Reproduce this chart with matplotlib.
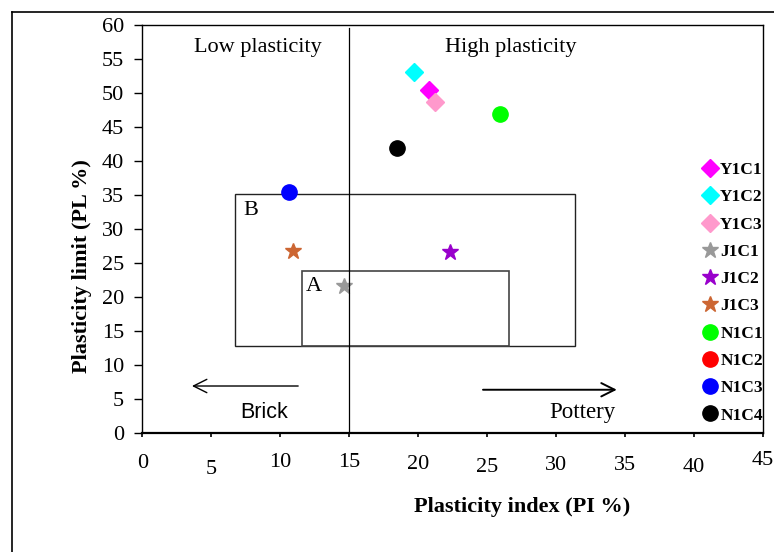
import numpy as np
import matplotlib.pyplot as plt
from matplotlib.patches import Rectangle
from matplotlib.lines import Line2D
from matplotlib.transforms import ScaledTranslation

# %%
""" Data read from the figure """
samples = ['Y1C1', 'Y1C2', 'Y1C3', 'J1C1', 'J1C2', 'J1C3', 'N1C1', 'N1C2', 'N1C3', 'N1C4']
pi_vals = [20.8, 19.7, 21.2, 14.6, 22.3, 10.9, 25.9, None, 10.6, 18.5]   # N1C2 not plotted
pl_vals = [50.4, 53.1, 48.7, 21.6, 26.7, 26.8, 46.9, None, 35.5, 41.9]

# zones (PI min, PI max, PL min, PL max)
zone_a = [11.6, 26.6, 12.8, 23.9]
zone_b = [6.7, 31.4, 12.8, 35.1]
pi_split = 15

xticks = [0, 5, 10, 15, 20, 25, 30, 35, 40, 45]
yticks = [0, 5, 10, 15, 20, 25, 30, 35, 40, 45, 50, 55, 60]

# %%
""" Styles """
markers = ['D', 'D', 'D', '*', '*', '*', 'o', 'o', 'o', 'o']
colors = ['#ff00ff', '#00ffff', '#ff99cc', '#999999', '#9900cc', '#cc6633',
          '#00ff00', '#ff0000', '#0000ff', '#000000']
msizes = [9, 9, 9, 12, 12, 12, 11, 11, 11, 11]
# small vertical jitter of the x tick labels (pixels), as in the original
xlab_dy = [1, 7, 0, 0, 2, 5, 3, 3, 5, -2]

plt.rcParams['font.family'] = 'Liberation Serif'
plt.rcParams['font.size'] = 15
plt.rcParams['mathtext.fontset'] = 'dejavuserif'

fig = plt.figure(figsize=(7.74, 5.52), dpi=100)
ax = fig.add_axes([142.3/774, 1 - 433.3/552, (763 - 142.3)/774, (433.3 - 25)/552])

# outer frame
fig.add_artist(Line2D([12.5/774, 1.0], [1 - 11.5/552, 1 - 11.5/552], color='black', lw=1.2))
fig.add_artist(Line2D([12.5/774, 12.5/774], [0.0, 1 - 11.5/552], color='black', lw=1.2))

# points
for name, x, y, m, c, s in zip(samples, pi_vals, pl_vals, markers, colors, msizes):
    xs = [] if x is None else [x]
    ys = [] if y is None else [y]
    ax.plot(xs, ys, ls='none', marker=m, color=c, markersize=s, label=name)

# zones
ax.add_patch(Rectangle((zone_b[0], zone_b[2]), zone_b[1] - zone_b[0], zone_b[3] - zone_b[2],
                       fill=False, edgecolor='#222222', lw=1.0))
ax.add_patch(Rectangle((zone_a[0], zone_a[2]), zone_a[1] - zone_a[0], zone_a[3] - zone_a[2],
                       fill=False, edgecolor='#444444', lw=1.2))
ax.plot([pi_split, pi_split], [0, 59.6], color='black', lw=0.9)

ax.text(zone_b[0] + 0.6, zone_b[3] - 2.3, 'B', fontsize=16, ha='left', va='center')
ax.text(zone_a[0] + 0.25, zone_a[3] - 2.3, 'A', fontsize=16, ha='left', va='center')

ax.text(8.35, 56.7, 'Low plasticity', fontsize=16, ha='center', va='center')
ax.text(26.7, 56.7, 'High plasticity', fontsize=16, ha='center', va='center')

# arrows
ax.annotate('', xy=(3.6, 6.95), xytext=(11.3, 6.95),
            arrowprops=dict(arrowstyle='->,head_length=0.6,head_width=0.3',
                            mutation_scale=16, lw=1.0, color='black', shrinkA=0, shrinkB=0))
ax.annotate('', xy=(34.4, 6.4), xytext=(24.7, 6.4),
            arrowprops=dict(arrowstyle='->,head_length=0.6,head_width=0.3',
                            mutation_scale=16, lw=1.4, color='black', shrinkA=0, shrinkB=0))
ax.text(8.8, 3.1, 'Brick', fontsize=15.5, family='Liberation Sans', ha='center', va='center')
ax.text(31.9, 3.1, 'Pottery', fontsize=16.5, ha='center', va='center')

ax.set_xlim(0, 45)
ax.set_ylim(0, 60)
ax.set_xticks(xticks)
ax.set_xticklabels([str(t) for t in xticks])
ax.set_yticks(yticks)
ax.tick_params(axis='y', direction='out', length=6, width=1, pad=7, labelsize=16)
ax.tick_params(axis='x', direction='out', length=3, width=1.2, pad=11, labelsize=16)
for lab, dy in zip(ax.get_xticklabels(), xlab_dy):
    lab.set_transform(lab.get_transform() + ScaledTranslation(0, -dy/100, fig.dpi_scale_trans))

for sp in ax.spines.values():
    sp.set_linewidth(1.0)
ax.spines['bottom'].set_linewidth(1.6)

ax.set_xlabel('Plasticity index (PI %)', fontweight='bold', fontsize=16)
ax.set_ylabel('Plasticity limit (PL %)', fontweight='bold', fontsize=16)
ax.xaxis.set_label_coords(0.612, -0.1805)
ax.xaxis.label.set_va('center')
ax.yaxis.set_label_coords(-0.097, 0.41)
ax.yaxis.label.set_va('center')

ax.legend(loc='upper left', bbox_to_anchor=(702/774, 1 - 162/552), bbox_transform=fig.transFigure,
          frameon=False, borderpad=0, borderaxespad=0, handlelength=0.9, handletextpad=0.15,
          labelspacing=0.64, prop={'weight': 'bold', 'size': 12.5})

fig.savefig('out.png', dpi=100)
